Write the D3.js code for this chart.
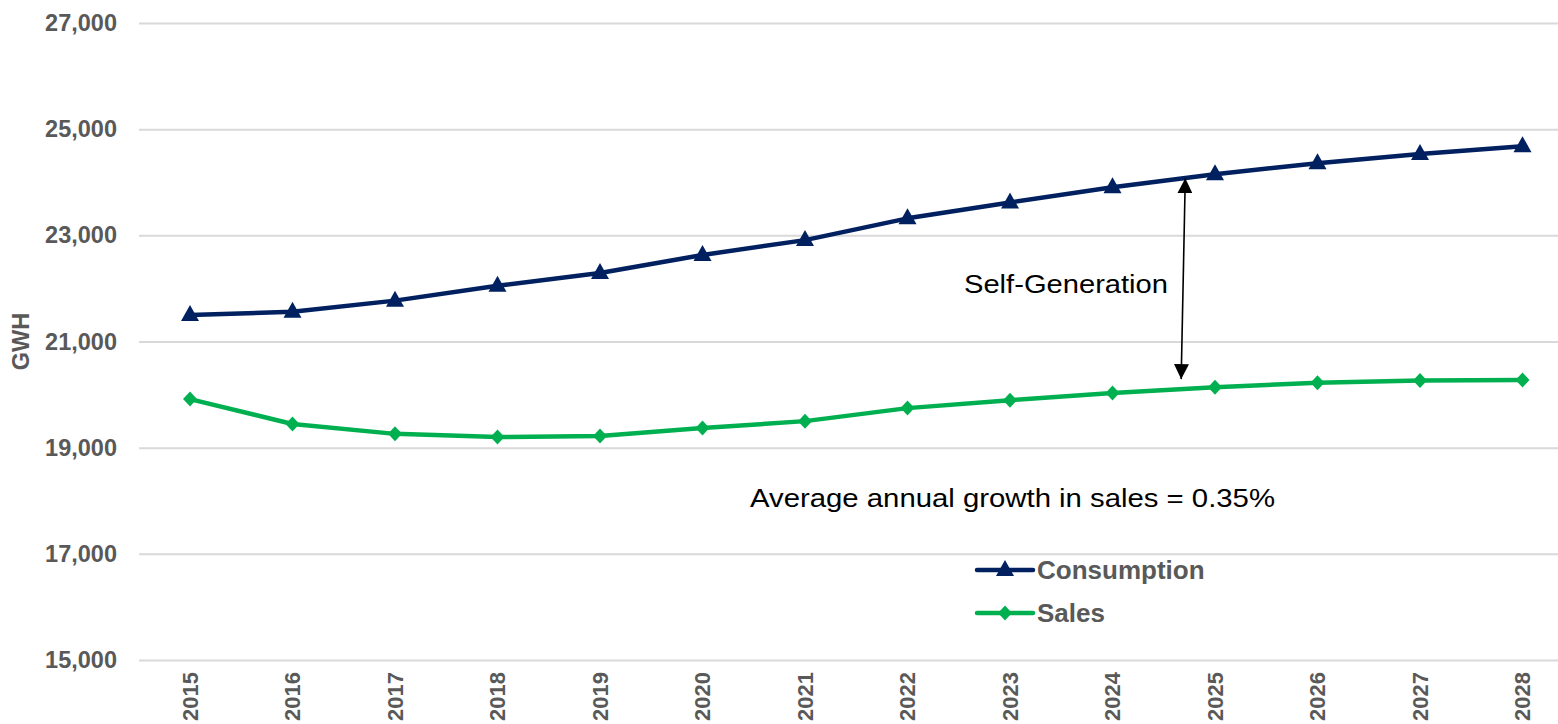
<!DOCTYPE html>
<html>
<head>
<meta charset="utf-8">
<script src="https://cdn.jsdelivr.net/npm/d3@7"></script>
<style>
  html, body { margin: 0; padding: 0; background: #fff; }
  svg { display: block; }
</style>
</head>
<body>
<div id="chart"></div>
<script>
const years = ["2015","2016","2017","2018","2019","2020","2021","2022","2023","2024","2025","2026","2027","2028"];
const consumption = [21500, 21560, 21770, 22050, 22290, 22630, 22910, 23320, 23620, 23905, 24150, 24360, 24530, 24680];
const sales = [19915, 19445, 19260, 19200, 19220, 19370, 19500, 19745, 19895, 20030, 20140, 20225, 20265, 20275];
const yTicks = [15000, 17000, 19000, 21000, 23000, 25000, 27000];
const seriesNames = ["Consumption", "Sales"];
const seriesColors = ["#002060", "#00B050"];
const annotationLabel = "Self-Generation";
const growthLabel = "Average annual growth in sales = 0.35%";
const yTitle = "GWH";

const W = 1558, H = 724;
const svg = d3.select("#chart").append("svg").attr("width", W).attr("height", H);

const x = d3.scaleBand().domain(years).range([138.75, 1573.75]).padding(0);
const cx = d => x(d) + x.bandwidth() / 2;
const y = d3.scaleLinear().domain([15000, 27000]).range([660, 23]);

// gridlines
svg.append("g")
  .attr("transform", "translate(139,0)")
  .call(d3.axisLeft(y).tickValues(yTicks).tickSize(-(W - 139)).tickFormat(""))
  .call(g => g.select(".domain").remove())
  .call(g => g.selectAll("line").attr("stroke", "#d9d9d9").attr("stroke-width", 2));

// y tick labels
svg.append("g")
  .attr("transform", "translate(117,0)")
  .call(d3.axisLeft(y).tickValues(yTicks).tickSize(0).tickPadding(0).tickFormat(d3.format(",")))
  .call(g => g.select(".domain").remove())
  .call(g => g.selectAll("text")
    .attr("font-family", "Liberation Sans, Arial, sans-serif")
    .attr("font-weight", "bold").attr("font-size", 23.5).attr("fill", "#595959"));

// x tick labels
svg.append("g")
  .attr("transform", "translate(0,672)")
  .call(d3.axisBottom(x).tickSize(0).tickPadding(0))
  .call(g => g.select(".domain").remove())
  .call(g => g.selectAll("text")
    .attr("font-family", "Liberation Sans, Arial, sans-serif")
    .attr("font-weight", "bold").attr("font-size", 22).attr("fill", "#595959")
    .attr("transform", "rotate(-90)")
    .attr("text-anchor", "end").attr("x", 0).attr("y", 0).attr("dy", "0.36em"));

// y title
svg.append("text")
  .attr("transform", `translate(29,${y(21000)}) rotate(-90)`)
  .attr("text-anchor", "middle")
  .attr("font-family", "Liberation Sans, Arial, sans-serif")
  .attr("font-weight", "bold").attr("font-size", 23.5).attr("fill", "#595959")
  .text(yTitle);

const line = d3.line().x((d, i) => cx(years[i])).y(d => y(d));
const tri = "M0,-10 L9,6 L-9,6 Z";
const dia = "M0,-7.5 L7,0 L0,7.5 L-7,0 Z";
const shapes = [tri, dia];
const data = [consumption, sales];

data.forEach((vals, k) => {
  svg.append("path").datum(vals)
    .attr("d", line).attr("fill", "none")
    .attr("stroke", seriesColors[k]).attr("stroke-width", 4.5)
    .attr("stroke-linejoin", "round");
  svg.append("g").selectAll("path").data(vals).join("path")
    .attr("transform", (d, i) => `translate(${cx(years[i])},${y(d)})`)
    .attr("d", shapes[k]).attr("fill", seriesColors[k]);
});

// legend
const legY = [570, 613];
seriesNames.forEach((name, k) => {
  const g = svg.append("g").attr("transform", `translate(977,${legY[k]})`);
  g.append("line").attr("x1", 0).attr("x2", 56).attr("y1", 0).attr("y2", 0)
    .attr("stroke", seriesColors[k]).attr("stroke-width", 4.5).attr("stroke-linecap", "round");
  g.append("path").attr("transform", "translate(28,0)").attr("d", shapes[k]).attr("fill", seriesColors[k]);
  g.append("text").attr("x", 60).attr("y", 0).attr("dy", "0.35em")
    .attr("font-family", "Liberation Sans, Arial, sans-serif")
    .attr("font-weight", "bold").attr("font-size", 26).attr("fill", "#595959")
    .text(name);
});

// double-headed arrow
const defs = svg.append("defs");
defs.append("marker").attr("id", "ah").attr("viewBox", "0 0 10 10")
  .attr("refX", 10).attr("refY", 5).attr("markerWidth", 15).attr("markerHeight", 15)
  .attr("markerUnits", "userSpaceOnUse").attr("orient", "auto-start-reverse")
  .append("path").attr("d", "M0,0 L10,5 L0,10 Z").attr("fill", "#000");
const arrowTopX = 2024 + 0.71, arrowBotX = 2024 + 0.67;
const xYear = v => cx(String(Math.floor(v))) + (v - Math.floor(v)) * x.step();
svg.append("line")
  .attr("x1", xYear(arrowTopX)).attr("y1", y(24076))
  .attr("x2", xYear(arrowBotX)).attr("y2", y(20291))
  .attr("stroke", "#000").attr("stroke-width", 1.6)
  .attr("marker-start", "url(#ah)").attr("marker-end", "url(#ah)");

svg.append("text").attr("x", 964).attr("y", 293)
  .attr("font-family", "Liberation Sans, Arial, sans-serif")
  .attr("font-size", 25).attr("fill", "#000")
  .attr("textLength", 204).attr("lengthAdjust", "spacingAndGlyphs")
  .text(annotationLabel);

svg.append("text").attr("x", 750).attr("y", 507)
  .attr("font-family", "Liberation Sans, Arial, sans-serif")
  .attr("font-size", 25).attr("fill", "#000")
  .attr("textLength", 525).attr("lengthAdjust", "spacingAndGlyphs")
  .text(growthLabel);
</script>
</body>
</html>
